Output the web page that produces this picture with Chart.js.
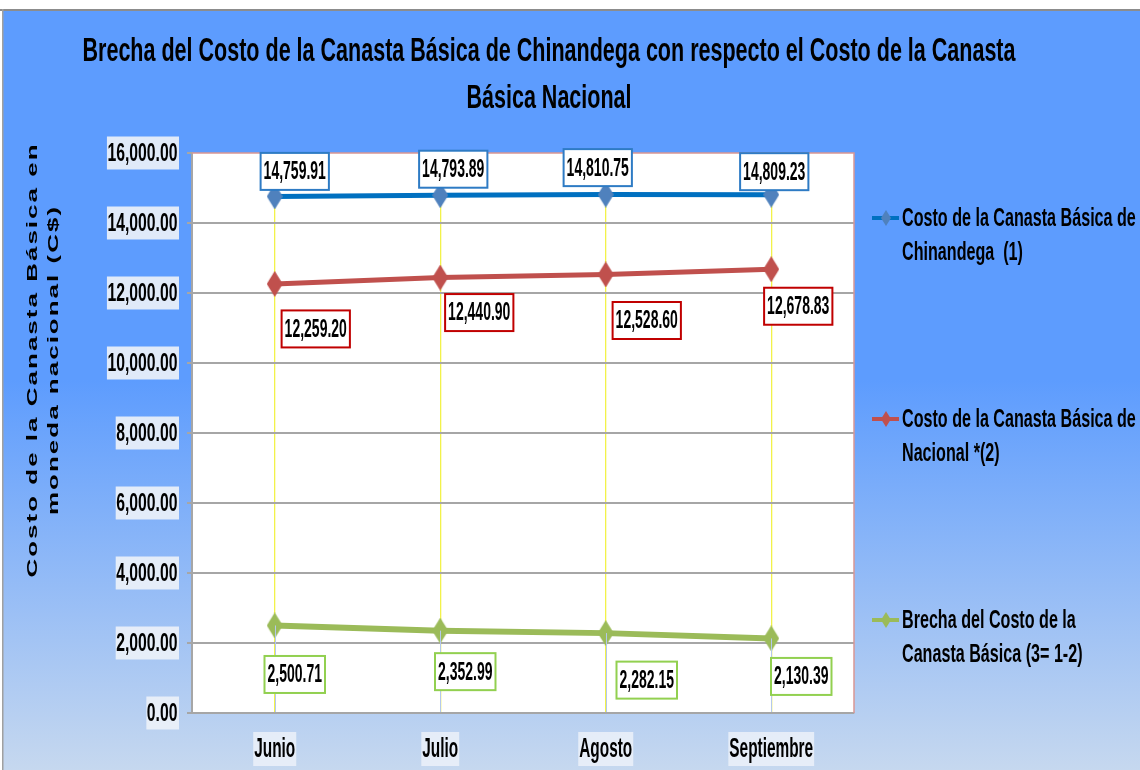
<!DOCTYPE html>
<html>
<head>
<meta charset="utf-8">
<script src="https://cdn.jsdelivr.net/npm/chart.js@4/dist/chart.umd.min.js"></script>
<style>
  body { margin: 0; background: #fff; }
  canvas { display: block; }
</style>
</head>
<body>
<canvas id="chart" width="1140" height="770"></canvas>
<script>
const months = ["Junio", "Julio", "Agosto", "Septiembre"];
const chinandega = [14759.91, 14793.89, 14810.75, 14809.23];
const nacional = [12259.20, 12440.90, 12528.60, 12678.83];
const brecha = [2500.71, 2352.99, 2282.15, 2130.39];
const seriesNames = [
  "Costo de la Canasta Básica de Chinandega  (1)",
  "Costo de la Canasta Básica de Nacional *(2)",
  "Brecha del Costo de la Canasta Básica (3= 1-2)"
];
const yMin = 0, yMax = 16000, yStep = 2000;
const titleLines = ["Brecha del Costo de la Canasta Básica de Chinandega con respecto el Costo de la Canasta", "Básica Nacional"];
const yTitleLines = ["Costo de la Canasta Básica en", "moneda nacional (C$)"];

// label placement (Excel had them dragged around by hand)
const labelDx = [[20, 13, -8, 3], [41, 39, 41, 27], [20, 25, 41, 30]];
const labelDy = [[-25, -26, -27, -23], [45, 35, 46, 37], [49, 41, 47, 38]];
const labelBorder = ["#2e7bc4", "#c00000", "#92d050"];

const W = 1140, H = 770;
const FONT = '"Liberation Sans", Arial, sans-serif';

function fmt(v) {
  return v.toLocaleString("en-US", { minimumFractionDigits: 2, maximumFractionDigits: 2 });
}

// narrow text: the original is squeezed horizontally
function txt(ctx, s, x, y, size, sx, align, bold) {
  ctx.save();
  ctx.font = (bold === false ? "" : "bold ") + size + "px " + FONT;
  ctx.translate(x, y);
  ctx.scale(sx, 1);
  ctx.textAlign = align || "left";
  ctx.textBaseline = "middle";
  ctx.fillStyle = "#000";
  ctx.fillText(s, 0, 0);
  ctx.restore();
}
function txtWidth(ctx, s, size, sx, bold) {
  ctx.save();
  ctx.font = (bold === false ? "" : "bold ") + size + "px " + FONT;
  const w = ctx.measureText(s).width * sx;
  ctx.restore();
  return w;
}

function diamond(color, w, h) {
  const c = document.createElement("canvas");
  c.width = w; c.height = h;
  const g = c.getContext("2d");
  g.fillStyle = color;
  g.beginPath();
  g.moveTo(w / 2, 0); g.lineTo(w, h / 2); g.lineTo(w / 2, h); g.lineTo(0, h / 2);
  g.closePath();
  g.fill();
  return c;
}

const lineColors = ["#0070c0", "#c0504d", "#9bbb59"];
const markColors = ["#4f81bd", "#c0504d", "#9bbb59"];

const decor = {
  id: "decor",
  beforeDraw(chart) {
    const { ctx, chartArea: a } = chart;
    ctx.save();
    ctx.fillStyle = "#fff";
    ctx.fillRect(0, 0, W, H);
    const g = ctx.createLinearGradient(0, 380, 0, H);
    g.addColorStop(0, "#5d9cfe");
    g.addColorStop(1, "#c6d8ef");
    ctx.fillStyle = g;
    ctx.fillRect(3, 10, W - 3, H - 10);
    ctx.fillStyle = "#8c8c8c";
    ctx.fillRect(0, 9, W, 2);
    ctx.fillStyle = "#a0a0a0";
    ctx.fillRect(2, 9, 1.5, H - 9);
    ctx.fillStyle = "#fff";
    ctx.fillRect(a.left, a.top, a.width, a.height);
    ctx.restore();
  },
  afterDraw(chart) {
    const { ctx, chartArea: a } = chart;
    const xs = chart.scales.x, ys = chart.scales.y;
    ctx.save();

    // drop lines below the lowest series
    const low = chart.getDatasetMeta(2).data;
    ctx.strokeStyle = "#b4c8ec";
    ctx.lineWidth = 1;
    low.forEach(p => {
      ctx.beginPath();
      ctx.moveTo(Math.round(p.x) + 0.5, p.y);
      ctx.lineTo(Math.round(p.x) + 0.5, a.bottom - 1);
      ctx.stroke();
    });

    // plot frame top / right
    ctx.strokeStyle = "#d99694";
    ctx.lineWidth = 1.5;
    ctx.beginPath();
    ctx.moveTo(a.left, a.top);
    ctx.lineTo(a.right, a.top);
    ctx.lineTo(a.right, a.bottom);
    ctx.stroke();

    // y tick labels
    ys.ticks.forEach((t, i) => {
      const py = ys.getPixelForTick(i);
      const s = fmt(t.value);
      const w = txtWidth(ctx, s, 25, 0.63);
      ctx.fillStyle = "rgba(236,241,249,0.92)";
      ctx.fillRect(177 - w, py - 16.5, w + 2, 33);
      txt(ctx, s, 177.5, py + 1, 25, 0.63, "right");
    });

    // x tick labels
    xs.ticks.forEach((t, i) => {
      const px = xs.getPixelForTick(i);
      const s = months[i];
      const w = txtWidth(ctx, s, 27, 0.57);
      ctx.fillStyle = "rgba(236,241,249,0.85)";
      ctx.fillRect(px - w / 2 - 1, 732, w + 2, 34);
      txt(ctx, s, px, 750, 27, 0.57, "center");
    });

    // data labels
    chart.data.datasets.forEach((ds, di) => {
      chart.getDatasetMeta(di).data.forEach((p, i) => {
        const s = fmt(ds.data[i]);
        const cx = p.x + labelDx[di][i], cy = p.y + labelDy[di][i];
        const w = txtWidth(ctx, s, 25, 0.56) + 6;
        ctx.fillStyle = "#fff";
        ctx.fillRect(cx - w / 2, cy - 18.5, w, 37);
        ctx.strokeStyle = labelBorder[di];
        ctx.lineWidth = 2;
        ctx.strokeRect(cx - w / 2, cy - 18.5, w, 37);
        txt(ctx, s, cx, cy + 1, 25, 0.56, "center");
      });
    });

    // legend
    const legendY = [218, 419, 620];
    chart.data.datasets.forEach((ds, di) => {
      const y = legendY[di];
      ctx.strokeStyle = lineColors[di];
      ctx.lineWidth = 4;
      ctx.beginPath();
      ctx.moveTo(872, y); ctx.lineTo(899, y);
      ctx.stroke();
      ctx.drawImage(diamond(markColors[di], 10, 16), 881, y - 8);
      // wrap
      const words = ds.label.split(" ");
      const lines = [];
      let cur = "";
      words.forEach(wd => {
        const test = cur === "" ? wd : cur + " " + wd;
        if (cur !== "" && txtWidth(ctx, test, 26, 0.62) > 237) { lines.push(cur); cur = wd; }
        else cur = test;
      });
      lines.push(cur);
      lines.forEach((l, li) => txt(ctx, l, 902, y + 1 + li * 34, 26, 0.62, "left"));
    });

    // title
    ctx.font = "bold 33px " + FONT;
    const tsx = 933 / ctx.measureText(titleLines[0]).width;
    txt(ctx, titleLines[0], 549, 52, 33, tsx, "center");
    txt(ctx, titleLines[1], 549, 99, 33, tsx, "center");

    // y axis title (rotated, squeezed across)
    ctx.save();
    ctx.font = "bold 26px " + FONT;
    const w0 = ctx.measureText(yTitleLines[0]).width;
    const ls = Math.max(0, (433 - w0) / (yTitleLines[0].length - 1));
    ctx.letterSpacing = ls.toFixed(2) + "px";
    ctx.fillStyle = "#000";
    ctx.textAlign = "center";
    ctx.textBaseline = "middle";
    [33, 54].forEach((cx, li) => {
      ctx.save();
      ctx.translate(cx, 361);
      ctx.rotate(-Math.PI / 2);
      ctx.scale(1, 0.58);
      ctx.fillText(yTitleLines[li], ls / 2, 0);
      ctx.restore();
    });
    ctx.restore();

    ctx.restore();
  }
};

const series = [chinandega, nacional, brecha];
const datasets = series.map((vals, i) => ({
  label: seriesNames[i],
  data: vals,
  borderColor: lineColors[i],
  backgroundColor: markColors[i],
  borderWidth: i === 2 ? 6 : 5,
  pointStyle: diamond(markColors[i], 16, 26),
  pointRadius: 10,
  tension: 0
}));

new Chart(document.getElementById("chart"), {
  type: "line",
  data: { labels: months, datasets: datasets },
  options: {
    responsive: false,
    animation: false,
    devicePixelRatio: 1,
    layout: { padding: { left: 0, top: 153, right: 286, bottom: 0 } },
    plugins: {
      legend: { display: false },
      title: { display: false },
      tooltip: { enabled: false }
    },
    scales: {
      x: {
        type: "category",
        offset: true,
        z: 1,
        grid: { color: "#f2f24a", lineWidth: 1.3, offset: false, drawTicks: false },
        border: { color: "#a6a6a6", width: 2 },
        ticks: { color: "transparent", font: { size: 10 }, maxRotation: 0, autoSkip: false },
        afterFit(s) { s.height = 57; }
      },
      y: {
        min: yMin,
        max: yMax,
        ticks: { stepSize: yStep, color: "transparent", font: { size: 10 } },
        grid: {
          color: c => (c.tick && c.tick.value === yMax ? "transparent" : "#a6a6a6"),
          tickColor: "#a6a6a6",
          lineWidth: 2,
          tickLength: 5
        },
        border: { color: "#a6a6a6", width: 2 },
        afterFit(s) { s.width = 192; }
      }
    }
  },
  plugins: [decor]
});
</script>
</body>
</html>
